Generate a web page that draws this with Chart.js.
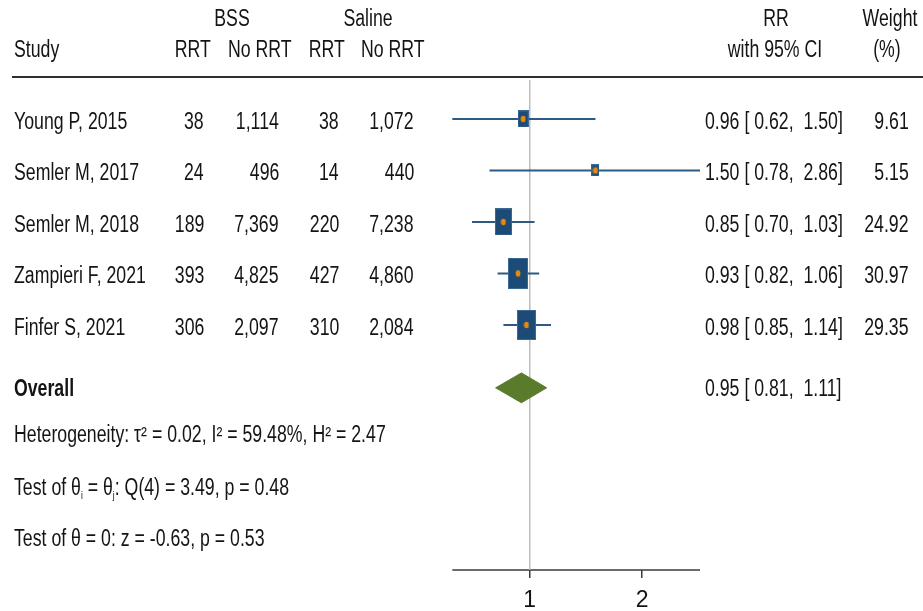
<!DOCTYPE html>
<html>
<head>
<meta charset="utf-8">
<title>Forest plot: RRT, BSS vs Saline</title>
<script src="https://cdn.jsdelivr.net/npm/chart.js@4/dist/chart.umd.min.js"></script>
<style>
  html, body { margin: 0; padding: 0; background: #fff; }
  #wrap { position: relative; width: 923px; height: 611px; overflow: hidden; background: #fff; }
  #wrap canvas { position: absolute; left: 0; top: 0; }
  .t { position: absolute; white-space: nowrap; font-family: 'Liberation Sans', Arial, Helvetica, sans-serif;
       font-size: 23px; line-height: 26px; height: 26px; color: #141414; }
  .t sub { font-size: 11px; vertical-align: -4px; line-height: 0; }
  .b { font-weight: bold; }
  .rule { position: absolute; left: 12px; right: 0; top: 76px; height: 2px; background: #2e2e2e; }
</style>
</head>
<body>
<div id="wrap">
  <canvas id="c" width="923" height="640"></canvas>
  <div class="rule"></div>
</div>
<script>
// ---- study data ----
const studies   = ["Young P, 2015", "Semler M, 2017", "Semler M, 2018", "Zampieri F, 2021", "Finfer S, 2021"];
const bssRRT    = [38, 24, 189, 393, 306];
const bssNoRRT  = [1114, 496, 7369, 4825, 2097];
const salRRT    = [38, 14, 220, 427, 310];
const salNoRRT  = [1072, 440, 7238, 4860, 2084];
const rr        = [0.96, 1.50, 0.85, 0.93, 0.98];
const rrLow     = [0.62, 0.78, 0.70, 0.82, 0.85];
const rrHigh    = [1.50, 2.86, 1.03, 1.06, 1.14];
const weights   = [9.61, 5.15, 24.92, 30.97, 29.35];

// pooled estimate
const overallRR   = 0.95;
const overallLow  = 0.81;
const overallHigh = 1.11;

// axis
const xTicks    = [1, 2];
const nullValue = 1;
const xMin = Math.min(...rrLow);
const xMax = Math.max(...rrHigh);

// footer statistics
const statLines = [
  "Heterogeneity: \u03C4\u00B2 = 0.02, I\u00B2 = 59.48%, H\u00B2 = 2.47",
  "Test of \u03B8<sub>i</sub> = \u03B8<sub>j</sub>: Q(4) = 3.49, p = 0.48",
  "Test of \u03B8 = 0: z = -0.63, p = 0.53"
];

// ---- layout constants (row units on the hidden y scale) ----
const W = 923;
const Y_MIN = -0.757, Y_MAX = 8.757;
const OVERALL_ROW = 5.22;
const STAT_ROWS = [6.12, 7.15, 8.14];
const FONT = "'Liberation Sans', Arial, Helvetica, sans-serif";
const SX = 0.77;            // horizontal condensing of the table text

const boxColor  = '#1b4b76';
const boxEdge   = '#3a6892';
const ciColor   = '#2c5a84';
const dotColor  = '#e8890c';
const diamColor = '#5a7a2c';
const refColor  = '#bdbdbd';
const axisColor = '#3a3a3a';

// weight-scaled study boxes
function makeBox(w) {
  const h = Math.round(5.5 * Math.sqrt(w));
  const bw = Math.round(h * 0.64);
  const cv = document.createElement('canvas');
  cv.width = bw; cv.height = h;
  const g = cv.getContext('2d');
  g.fillStyle = boxEdge; g.fillRect(0, 0, bw, h);
  g.fillStyle = boxColor; g.fillRect(1, 1, bw - 2, h - 2);
  return cv;
}
function makeDot() {
  const cv = document.createElement('canvas');
  cv.width = 6; cv.height = 8;
  const g = cv.getContext('2d');
  g.fillStyle = dotColor;
  g.beginPath(); g.ellipse(3, 4, 2.4, 3.3, 0, 0, Math.PI * 2); g.fill();
  return cv;
}
const boxImgs = weights.map(makeBox);
const dotImg = makeDot();

const rowIdx = studies.map((_, i) => i);

const datasets = [];
// point estimate dots
datasets.push({
  label: 'estimate', order: 0,
  data: rr.map((v, i) => ({ x: v, y: rowIdx[i] })),
  pointStyle: dotImg, pointRadius: 3, showLine: false
});
// weight boxes
datasets.push({
  label: 'weight', order: 1,
  data: rr.map((v, i) => ({ x: v, y: rowIdx[i] })),
  pointStyle: ctx => boxImgs[ctx.dataIndex], pointRadius: 3, showLine: false
});
// confidence intervals
studies.forEach((s, i) => {
  datasets.push({
    label: s, order: 2,
    data: [{ x: rrLow[i], y: rowIdx[i] }, { x: rrHigh[i], y: rowIdx[i] }],
    showLine: true, borderColor: ciColor, borderWidth: 2, pointRadius: 0, fill: false
  });
});
// pooled diamond
const dh = 0.29;
datasets.push({
  label: 'Overall', order: 3,
  data: [
    { x: overallLow, y: OVERALL_ROW },
    { x: overallRR, y: OVERALL_ROW - dh },
    { x: overallHigh, y: OVERALL_ROW },
    { x: overallRR, y: OVERALL_ROW + dh },
    { x: overallLow, y: OVERALL_ROW }
  ],
  showLine: true, borderColor: diamColor, borderWidth: 1, backgroundColor: diamColor,
  fill: 'shape', pointRadius: 0, tension: 0
});
// line of no effect
datasets.push({
  label: 'null', order: 4,
  data: [{ x: nullValue, y: Y_MIN }, { x: nullValue, y: Y_MAX }],
  showLine: true, borderColor: refColor, borderWidth: 1.5, pointRadius: 0, fill: false
});
// x-axis baseline spanning the plotted range
datasets.push({
  label: 'axis', order: 5, clip: false,
  data: [{ x: xMin, y: Y_MAX }, { x: xMax, y: Y_MAX }],
  showLine: true, borderColor: axisColor, borderWidth: 1.5, pointRadius: 0, fill: false
});

const chart = new Chart(document.getElementById('c'), {
  type: 'scatter',
  data: { datasets },
  options: {
    responsive: false,
    animation: false,
    events: [],
    layout: { padding: { left: 447, right: 223, top: 80, bottom: 17.5 } },
    plugins: { legend: { display: false }, tooltip: { enabled: false } },
    scales: {
      x: {
        type: 'logarithmic',
        min: xMin,
        max: xMax,
        afterBuildTicks: s => { s.ticks = xTicks.map(v => ({ value: v })); },
        grid: { drawOnChartArea: false, drawTicks: true, tickLength: 8, color: axisColor, lineWidth: 1.5 },
        border: { display: false },
        ticks: {
          autoSkip: false, maxRotation: 0, padding: 5, color: '#141414',
          font: { family: FONT, size: 23, lineHeight: 1.5 },
          callback: v => String(v)
        }
      },
      y: { display: false, reverse: true, min: Y_MIN, max: Y_MAX }
    }
  }
});

// ---- table text, positioned on the chart's row scale ----
const wrap = document.getElementById('wrap');
const yS = chart.scales.y;
function place(html, x, row, align, cls, dy) {
  const d = document.createElement('div');
  d.className = 't' + (cls ? ' ' + cls : '');
  d.innerHTML = html;
  const y = yS.getPixelForValue(row) + (dy || 0);
  d.style.top = (y - 13) + 'px';
  if (align === 'left') {
    d.style.left = x + 'px';
    d.style.transformOrigin = '0 50%';
    d.style.transform = `scaleX(${SX})`;
  } else if (align === 'right') {
    d.style.right = (W - x) + 'px';
    d.style.transformOrigin = '100% 50%';
    d.style.transform = `scaleX(${SX})`;
  } else {
    d.style.left = x + 'px';
    d.style.transformOrigin = '50% 50%';
    d.style.transform = `translateX(-50%) scaleX(${SX})`;
  }
  wrap.appendChild(d);
}
const nf = new Intl.NumberFormat('en-US');
const f2 = v => v.toFixed(2);
const ci = (m, l, h) => `${f2(m)} [ ${f2(l)},&nbsp;&nbsp;${f2(h)}]`;

// column headers
const H1 = -1.97, H2 = -1.35;
place('BSS', 232, H1, 'center');
place('Saline', 368, H1, 'center');
place('Study', 14, H2, 'left');
place('RRT', 211, H2, 'right');
place('No RRT', 292, H2, 'right');
place('RRT', 345, H2, 'right');
place('No RRT', 425, H2, 'right');
place('RR', 776, H1, 'center');
place('with 95% CI', 775, H2, 'center');
place('Weight', 890, H1, 'center');
place('(%)', 887, H2, 'center');

// study rows
studies.forEach((s, i) => {
  const r = rowIdx[i];
  place(s, 14, r, 'left', '', 2);
  place(nf.format(bssRRT[i]), 204, r, 'right', '', 2);
  place(nf.format(bssNoRRT[i]), 279, r, 'right', '', 2);
  place(nf.format(salRRT[i]), 339, r, 'right', '', 2);
  place(nf.format(salNoRRT[i]), 414, r, 'right', '', 2);
  place(ci(rr[i], rrLow[i], rrHigh[i]), 705, r, 'left', '', 2);
  place(f2(weights[i]), 909, r, 'right', '', 2);
});

// pooled row
place('Overall', 14, OVERALL_ROW, 'left', 'b');
place(ci(overallRR, overallLow, overallHigh), 705, OVERALL_ROW, 'left');

// statistics
statLines.forEach((s, i) => place(s, 14, STAT_ROWS[i], 'left'));
</script>
</body>
</html>
